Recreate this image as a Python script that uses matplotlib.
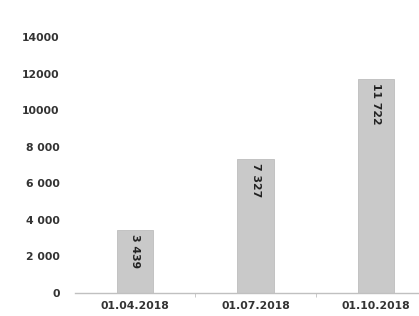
import matplotlib
matplotlib.use("Agg")
import matplotlib.pyplot as plt
import numpy as np

categories = ["01.04.2018", "01.07.2018", "01.10.2018"]
values = [3439, 7327, 11722]
value_labels = ["3 439", "7 327", "11 722"]
yticks = [0, 2000, 4000, 6000, 8000, 10000, 12000, 14000]
ytick_labels = ["0", "2 000", "4 000", "6 000", "8 000", "10000", "12000", "14000"]

fig = plt.figure(figsize=(4.19, 3.16), dpi=100)
# plot area runs past the right edge like the cropped original
ax = fig.add_axes([75 / 419, (316 - 293) / 316, 361 / 419, 256 / 316])

x = np.arange(len(categories))
ax.bar(x, values, width=0.3, color="#c9c9c9", edgecolor="#bdbdbd", linewidth=0.6)

for xi, v, lab in zip(x, values, value_labels):
    ax.text(xi, v - 230, lab, rotation=270, ha="center", va="top",
            fontsize=7.8, color="#222222", fontweight="bold")

ax.set_xlim(-0.5, 2.5)
ax.set_ylim(0, 14000)
ax.set_yticks(yticks)
ax.set_yticklabels(ytick_labels)
ax.set_xticks(x)
ax.set_xticklabels(categories)
ax.set_xticks([0.5, 1.5], minor=True)

for s in ["top", "right", "left"]:
    ax.spines[s].set_visible(False)
ax.spines["bottom"].set_color("#c0c0c0")
ax.spines["bottom"].set_linewidth(1.0)

ax.tick_params(axis="y", length=0, labelsize=7.8, labelcolor="#333333", pad=11)
ax.tick_params(axis="x", which="major", length=0, labelsize=7.8,
               labelcolor="#333333", pad=6)
ax.tick_params(axis="x", which="minor", length=3, color="#c0c0c0")
for lbl in ax.get_xticklabels() + ax.get_yticklabels():
    lbl.set_fontweight("bold")

fig.savefig("out.png", dpi=100)
